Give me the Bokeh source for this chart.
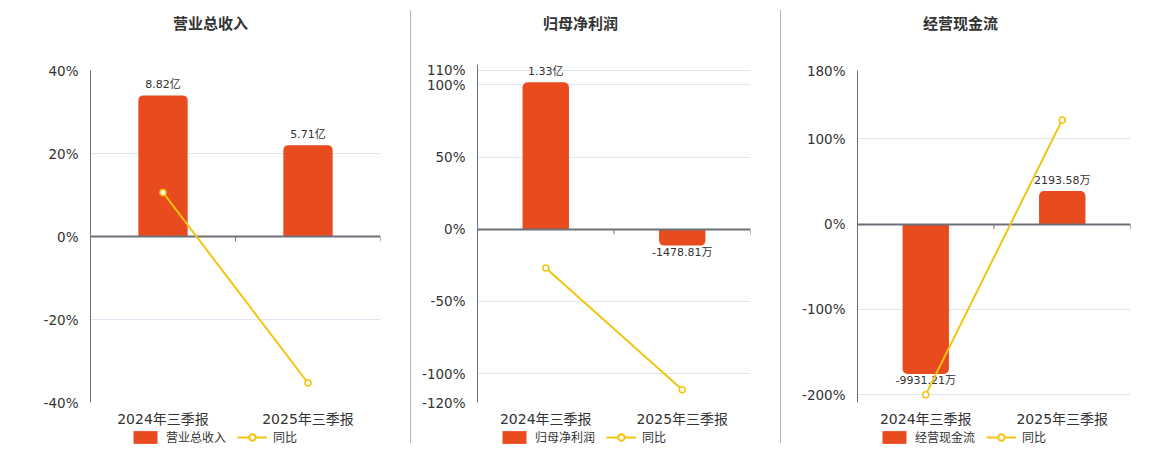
from bokeh.plotting import figure
from bokeh.models import (Range1d, FactorRange, FixedTicker, Legend, LegendItem, Label,
                          ColumnDataSource, Div, CustomJSTickFormatter)
from bokeh.layouts import row, column
from bokeh.embed import file_html
from bokeh.resources import INLINE
from bokeh.core.properties import value

# ---------------- data ----------------
categories = ["2024年三季报", "2025年三季报"]

titles = ["营业总收入", "归母净利润", "经营现金流"]

revenue_values = [8.82, 5.71]            # 亿元
revenue_labels = ["8.82亿", "5.71亿"]
revenue_yoy = [10.6, -35.3]              # %

profit_values = [13300.0, -1478.81]      # 万元
profit_labels = ["1.33亿", "-1478.81万"]
profit_yoy = [-26.9, -111.1]             # %

cash_values = [-9931.21, 2193.58]        # 万元
cash_labels = ["-9931.21万", "2193.58万"]
cash_yoy = [-199.8, 122.1]               # %

revenue_ticks = [-40, -20, 0, 20, 40]
profit_ticks = [-120, -100, -50, 0, 50, 100, 110]
cash_ticks = [-200, -100, 0, 100, 180]

# ---------------- style ----------------
BAR = "#E84C1E"
LINE = "#F2C40F"
GRID = "#E0E6F1"
AXIS = "#6E7079"
TXT = "#333333"
FONT_S = "DejaVu Sans, Noto Sans CJK SC"
CJK_S = "Noto Sans CJK SC"
TITLE_H = 44
MAIN_BOTTOM = 429
FRAME_BOTTOM = 405


def strip(width, height, x_end=1.0):
    f = figure(width=width, height=height, x_range=Range1d(0, x_end),
               y_range=Range1d(0, height), output_backend="svg",
               toolbar_location=None, x_axis_location=None,
               y_axis_location=None, min_border=0)
    f.outline_line_color = None
    f.xgrid.visible = False
    f.ygrid.visible = False
    return f


def make_panel(title, vals, labels, yoy, ticks, ymin, ymax, scale, width, bl, br,
               top, title_cx, legend_x):
    frame_h = FRAME_BOTTOM - top
    frame_w = width - bl - br
    p = figure(x_range=FactorRange(factors=categories, range_padding=0),
               y_range=Range1d(ymin, ymax), width=width,
               height=MAIN_BOTTOM - TITLE_H,
               output_backend="svg", toolbar_location=None,
               min_border_left=bl, min_border_right=br,
               min_border_top=top - TITLE_H,
               min_border_bottom=MAIN_BOTTOM - FRAME_BOTTOM)
    p.outline_line_color = None
    p.background_fill_color = "white"
    p.border_fill_color = "white"
    p.extra_y_ranges = {"bars": Range1d(ymin * scale, ymax * scale)}

    # axes
    ya = p.yaxis[0]
    ya.ticker = FixedTicker(ticks=ticks)
    ya.formatter = CustomJSTickFormatter(code="return tick + '%';")
    ya.axis_line_color = AXIS
    ya.major_tick_line_color = None
    ya.minor_tick_line_color = None
    ya.major_label_standoff = 6
    ya.major_label_text_font = FONT_S
    ya.major_label_text_font_size = "13.5px"
    ya.major_label_text_color = TXT

    xa = p.xaxis[0]
    xa.axis_line_color = None
    xa.major_tick_line_color = None
    xa.minor_tick_line_color = None
    xa.major_tick_out = 0
    xa.major_label_standoff = 8
    xa.major_label_text_font = FONT_S
    xa.major_label_text_font_size = "14px"
    xa.major_label_text_color = TXT

    p.xgrid.visible = False
    p.ygrid.ticker = FixedTicker(ticks=ticks)
    p.ygrid.grid_line_color = GRID

    # bars (positive / negative separately for rounded ends)
    pos = [i for i, v in enumerate(vals) if v >= 0]
    neg = [i for i, v in enumerate(vals) if v < 0]
    for idx, radius, base, off in ((pos, (5, 5, 0, 0), "bottom", -4),
                                   (neg, (0, 0, 5, 5), "top", 0)):
        if not idx:
            continue
        src = ColumnDataSource(dict(x=[categories[i] for i in idx],
                                    v=[vals[i] for i in idx],
                                    t=[labels[i] for i in idx]))
        p.vbar(x="x", top="v", bottom=0, width=0.34, source=src,
               y_range_name="bars", fill_color=BAR, line_color=None,
               border_radius=radius)
        p.text(x="x", y="v", text="t", source=src, y_range_name="bars",
               text_align="center", text_baseline=base, y_offset=off,
               text_font=value(FONT_S), text_font_size="11px", text_color=TXT)

    # zero line + boundary ticks
    p.hspan(y=[0], line_color=AXIS, line_width=2)
    tl = 5 * (ymax - ymin) / frame_h
    p.segment(x0=[1, 2], y0=[0, 0], x1=[1, 2], y1=[-tl, -tl],
              line_color=AXIS, line_width=1)

    # yoy line
    p.line(categories, yoy, line_color=LINE, line_width=2)
    p.scatter(categories, yoy, size=6, fill_color="white",
              line_color=LINE, line_width=1.5)

    # title strip (frame aligned with the chart frame, x in pixels)
    tf = strip(width, TITLE_H, frame_w)
    tf.add_layout(Label(x=title_cx, y=TITLE_H - 22, text=title,
                        text_align="center", text_baseline="middle",
                        text_font=CJK_S, text_font_size="15px",
                        text_font_style="bold", text_color=TXT))

    # legend strip (proxy marks lie outside the strip's visible range)
    lf = strip(width, 16)
    lb = lf.vbar(x=[-9], top=[-9], bottom=[-10], width=0.3, fill_color=BAR,
                 line_color=None, border_radius=4)
    ll = lf.line(x=[-10, -9], y=[-10, -9], line_color=LINE, line_width=2)
    ls = lf.scatter(x=[-10], y=[-10], size=9, fill_color="white", line_color=LINE,
                    line_width=2)
    legend = Legend(items=[LegendItem(label=title, renderers=[lb]),
                           LegendItem(label="同比", renderers=[ll, ls])],
                    orientation="horizontal", location=(legend_x, 0),
                    margin=0, padding=0, spacing=11, label_standoff=6,
                    glyph_width=30, glyph_height=16,
                    label_text_font=CJK_S, label_text_font_size="12px",
                    label_text_color=TXT, border_line_color=None,
                    background_fill_alpha=0)
    lf.add_layout(legend)
    return column(tf, p, lf)


p1 = make_panel(titles[0], revenue_values, revenue_labels, revenue_yoy, revenue_ticks,
                -40, 40, 8.82 / 34.0, 410, 90, 30, 70, 120, 40)
p2 = make_panel(titles[1], profit_values, profit_labels, profit_yoy, profit_ticks,
                -120, 114.1, 130.6, 369, 66, 30, 64, 103, 22)
p3 = make_panel(titles[2], cash_values, cash_labels, cash_yoy, cash_ticks,
                -209, 180, 56.6, 379, 76, 30, 70, 103, 22)


def sep():
    return Div(width=1, height=433, margin=(10, 0, 0, 0),
               styles={"background-color": "#B4B4B4"})


layout = row(p1, sep(), p2, sep(), p3)

open("out.html", "w").write(file_html(layout, INLINE))
